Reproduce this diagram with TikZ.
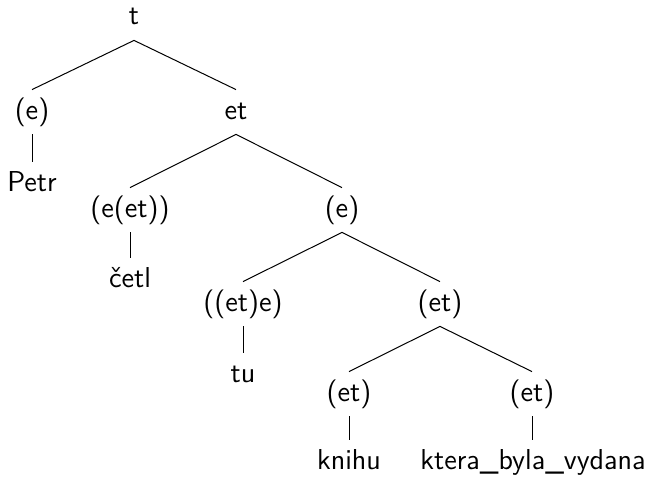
\documentclass[tikz,border=0pt]{standalone}
\begin{document}
\begin{tikzpicture}[x=0.5pt,y=-0.5pt,
  lbl/.style={anchor=base,inner sep=4pt,text height=10.5pt,text depth=3.5pt,
    font=\sffamily\fontsize{14.4}{17}\selectfont},
  edge/.style={draw=black,line width=0.5pt}]
\useasboundingbox (0,0) rectangle (651,476);
\node[lbl] (t) at (134,25) {t};
\node[lbl] (e1) at (32,119) {(e)};
\node[lbl] (et1) at (236,119) {et};
\node[lbl] (petr) at (32,191) {Petr};
\node[lbl] (eet) at (130,217) {(e(et))};
\node[lbl] (e2) at (342,217) {(e)};
\node[lbl] (cetl) at (130,287) {četl};
\node[lbl] (etee) at (243,311) {((et)e)};
\node[lbl] (et2) at (440,311) {(et)};
\node[lbl] (tu) at (243,382) {tu};
\node[lbl] (et3) at (349,401) {(et)};
\node[lbl] (et4) at (532,401) {(et)};
\node[lbl] (knihu) at (349,469) {knihu};
\node[lbl] (ktera) at (533,469) {ktera\_byla\_vydana};
\draw[edge] (t.south) -- (e1.north);
\draw[edge] (t.south) -- (et1.north);
\draw[edge] (e1.south) -- (petr.north);
\draw[edge] (et1.south) -- (eet.north);
\draw[edge] (et1.south) -- (e2.north);
\draw[edge] (eet.south) -- (cetl.north);
\draw[edge] (e2.south) -- (etee.north);
\draw[edge] (e2.south) -- (et2.north);
\draw[edge] (etee.south) -- (tu.north);
\draw[edge] (et2.south) -- (et3.north);
\draw[edge] (et2.south) -- (et4.north);
\draw[edge] (et3.south) -- (knihu.north);
\draw[edge] (et4.south) -- (et4.south |- ktera.north);
\end{tikzpicture}
\end{document}
